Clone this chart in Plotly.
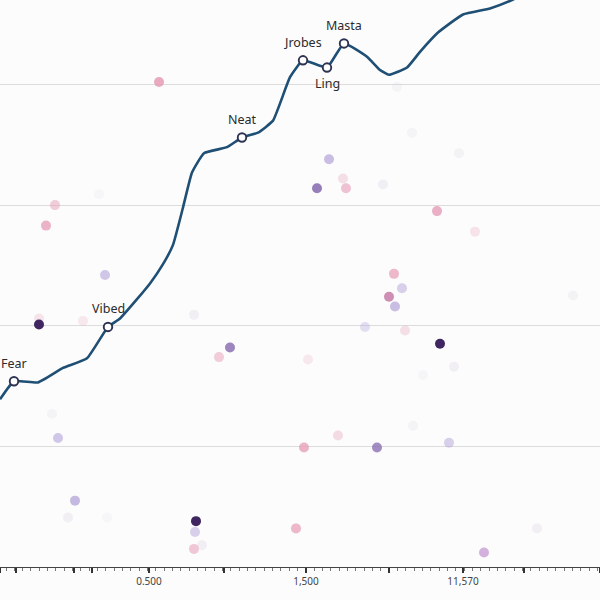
import plotly.graph_objects as go

# ---- main line series (x in axis units, y in axis units) ----
line_x = [0, 14, 38, 63, 87, 108, 120, 137, 150, 163, 173, 183, 192, 204, 227, 242, 258, 273, 290,
          303, 327, 344, 367, 380, 389, 407, 420, 438, 463, 490, 512, 540]
line_y = [1.39, 1.54, 1.53, 1.65, 1.73, 1.99, 2.06, 2.22, 2.35, 2.51, 2.67, 2.98, 3.27, 3.43, 3.48, 3.56,
          3.60, 3.70, 4.06, 4.20, 4.14, 4.34, 4.23, 4.12, 4.08, 4.14, 4.27, 4.43, 4.58, 4.63, 4.70, 4.82]
line_labels = ["", "Fear", "", "", "", "Vibed", "", "", "", "", "", "", "", "", "", "Neat",
               "", "", "", "Jrobes", "Ling", "Masta", "", "", "", "", "", "", "", "", "", ""]
label_below = ["Ling"]

# ---- scattered dots ----
dot_x = [159, 55, 46, 105, 39, 39, 83, 194, 230, 219, 52, 58, 75, 68, 107, 196, 195, 194, 202, 296,
         329, 317, 343, 346, 383, 412, 459, 397, 437, 475, 394, 389, 402, 395, 365, 405, 440, 454,
         308, 423, 413, 338, 304, 377, 449, 537, 484, 573, 99]
dot_y = [4.02, 3.00, 2.83, 2.42, 2.06, 2.01, 2.04, 2.09, 1.82, 1.74, 1.27, 1.07, 0.55, 0.41, 0.41,
         0.38, 0.29, 0.15, 0.18, 0.32, 3.38, 3.14, 3.22, 3.14, 3.17, 3.60, 3.43, 3.98, 2.95, 2.78,
         2.43, 2.24, 2.31, 2.16, 1.99, 1.96, 1.85, 1.66, 1.72, 1.59, 1.17, 1.09, 0.99, 0.99, 1.03,
         0.32, 0.12, 2.25, 3.09]
dot_kind = ["pink", "pink", "pink", "lavender", "pink", "dark", "pink", "faint", "purple", "pink",
            "faint", "lavender", "lavender", "faint", "faint", "dark", "lavender", "pink", "faint", "pink",
            "lavender", "purple", "pink", "pink", "faint", "faint", "faint", "faint", "pink", "pink",
            "pink", "rose", "lavender", "lavender", "lavender", "pink", "dark", "faint",
            "pink", "faint", "faint", "pink", "pink", "purple", "lavender", "faint", "orchid", "faint", "faint"]
dot_alpha = [0.85, 0.5, 0.75, 0.6, 0.25, 1.0, 0.2, 0.3, 0.8, 0.5, 0.2, 0.6, 0.75, 0.3, 0.15, 1.0, 0.5,
             0.55, 0.3, 0.7, 0.7, 0.85, 0.3, 0.6, 0.3, 0.2, 0.25, 0.2, 0.8, 0.25, 0.7, 0.85, 0.5, 0.7,
             0.35, 0.3, 1.0, 0.3, 0.2, 0.15, 0.2, 0.35, 0.75, 0.75, 0.5, 0.3, 0.75, 0.25, 0.15]

palette = {"pink": "#e59bb5", "lavender": "#b3a3da", "purple": "#8467ad", "dark": "#402660",
           "rose": "#c77aa6", "orchid": "#c49ad2", "faint": "#d6d2e0"}

# ---- axis ticks ----
major_ticks = [0, 16, 74, 92, 149, 224, 306, 389, 463, 524, 600]
major_text = ["0", "", "", "", "0.500", "", "1,500", "", "11,570", "", ""]

fig = go.Figure()

fig.add_trace(go.Scatter(
    x=dot_x, y=dot_y, mode="markers",
    marker=dict(size=10, color=[palette[k] for k in dot_kind], opacity=dot_alpha, line=dict(width=0)),
    hoverinfo="skip", showlegend=False))

fig.add_trace(go.Scatter(
    x=line_x, y=line_y, mode="lines",
    line=dict(color="#1f4f74", width=2.6, shape="spline", smoothing=0.4),
    showlegend=False))

lx = [x for x, t in zip(line_x, line_labels) if t]
ly = [y for y, t in zip(line_y, line_labels) if t]
lt = [t for t in line_labels if t]
fig.add_trace(go.Scatter(
    x=lx, y=ly, mode="markers",
    marker=dict(size=8.5, color="white", line=dict(color="#2d3350", width=1.9)),
    showlegend=False))

for x, y, t in zip(lx, ly, lt):
    fig.add_annotation(x=x, y=y, text=t, showarrow=False,
                       yshift=-16 if t in label_below else 18,
                       font=dict(family="Noto Sans", size=12.5, color="#2b2b2b"))

fig.update_layout(
    width=600, height=600,
    margin=dict(l=0, r=0, t=0, b=33),
    paper_bgcolor="#fcfcfc", plot_bgcolor="#fcfcfc",
    xaxis=dict(range=[0, 600], showgrid=False, zeroline=False, showline=True, linecolor="#444",
               linewidth=1, ticks="outside", ticklen=5, tickwidth=1.5, tickcolor="#333",
               tickmode="array", tickvals=major_ticks, ticktext=major_text,
               tickfont=dict(family="Noto Sans", size=10, color="#444"),
               minor=dict(tick0=6, dtick=8.33, ticks="outside", ticklen=3, tickcolor="#777",
                          tickwidth=1, showgrid=False)),
    yaxis=dict(range=[0, 4.7], dtick=1, tick0=0, showgrid=True, gridcolor="#dcdcdc", gridwidth=1,
               zeroline=False, showticklabels=False, showline=False),
)

fig.write_html("out.html")
